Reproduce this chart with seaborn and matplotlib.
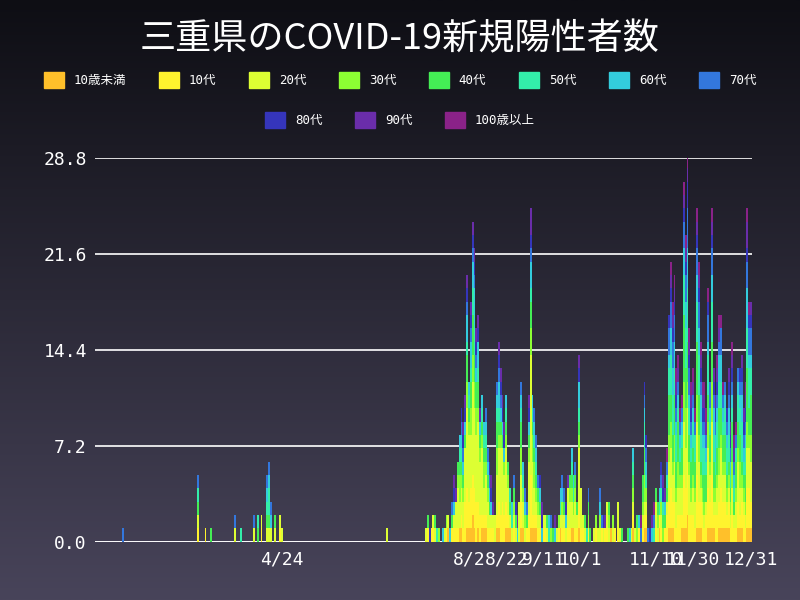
import numpy as np
import pandas as pd
import matplotlib
matplotlib.use("Agg")
import matplotlib.pyplot as plt
import matplotlib.patches as mpatches
import seaborn as sns

start = pd.Timestamp("2020-01-15")
age_labels = ["10歳未満", "10代", "20代", "30代", "40代", "50代", "60代", "70代", "80代", "90代", "100歳以上"]
age_colors = ["#FFC02A", "#FFF42E", "#DDFF33", "#8CFF33", "#44EE55", "#33EEAA", "#33CCDD", "#3377DD", "#3535BB", "#6A2DAA", "#8A2288"]

# early cases: day offset from Jan 15 -> count
early_days = [15, 55, 59, 62, 75, 78, 85, 87, 89, 92, 93, 94, 96, 99, 100, 156]
early_counts = [1, 5, 1, 1, 2, 1, 2, 2, 2, 5, 6, 3, 2, 2, 1, 1]

# daily totals from Jul 10 (day 177) to Dec 31 (day 351)
late_start = 177
late_counts = [
    1, 2, 1, 1, 2, 2, 1, 1, 0, 1, 1, 2, 2, 1, 3, 5, 4, 6, 8, 10,
    9, 11, 20, 12, 18, 24, 22, 16, 17, 10, 11, 9, 10, 7, 6, 5, 3, 2, 12, 15,
    13, 11, 9, 11, 6, 4, 3, 5, 3, 2, 3, 12, 6, 4, 3, 11, 25, 11, 10, 8,
    5, 5, 3, 2, 2, 2, 2, 2, 1, 2, 1, 2, 4, 5, 4, 3, 5, 5, 7, 5,
    6, 3, 14, 4, 2, 2, 1, 4, 1, 0, 1, 2, 1, 4, 2, 2, 2, 3, 3, 1,
    2, 1, 0, 3, 1, 1, 0, 0, 1, 1, 1, 7, 1, 2, 2, 2, 5, 12, 8, 1,
    1, 2, 3, 4, 3, 4, 6, 5, 4, 7, 17, 21, 18, 20, 13, 14, 10, 11, 27, 23,
    29, 16, 12, 13, 10, 25, 21, 15, 12, 12, 10, 19, 12, 25, 13, 11, 14, 17, 17, 12,
    12, 10, 13, 9, 15, 8, 9, 13, 13, 14, 10, 12, 25, 18, 18,
]

# rough age mix per wave (index into age_labels, repeated by weight)
mix_spring = [2, 3, 4, 5, 6, 7, 2, 4, 5, 1]
mix_summer = [1, 2, 2, 2, 1, 3, 4, 2, 0, 5, 6, 2, 3, 7, 1, 4, 2, 8, 6, 9]
mix_winter = [1, 2, 3, 4, 5, 0, 6, 1, 7, 2, 5, 8, 3, 4, 9, 6, 1, 5, 10, 7, 2, 4]

rows = []
for d, n in zip(early_days, early_counts):
    for k in range(n):
        rows.append((d, mix_spring[(d + k) % len(mix_spring)]))
for i, n in enumerate(late_counts):
    d = late_start + i
    mix = mix_summer if d < 290 else mix_winter
    for k in range(n):
        rows.append((d, mix[(d * 3 + k) % len(mix)]))
df = pd.DataFrame(rows, columns=["day", "age"])
df["age"] = pd.Categorical([age_labels[a] for a in df["age"]], categories=age_labels)

sns.set_theme(style="dark")
plt.rcParams["font.family"] = ["DejaVu Sans Mono", "Noto Sans CJK JP"]

fig = plt.figure(figsize=(8, 6), dpi=100)
bg = fig.add_axes([0, 0, 1, 1])
grad = np.linspace(0, 1, 256).reshape(-1, 1)
bg.imshow(grad, aspect="auto", cmap=matplotlib.colors.LinearSegmentedColormap.from_list("bg", ["#0e0e14", "#48445a"]),
          extent=[0, 1, 0, 1], origin="upper")
bg.axis("off")

ax = fig.add_axes([0.119, 0.097, 0.821, 0.64])
ax.set_facecolor("none")
# seaborn stacks the first hue level on top, so reverse to keep youngest at the bottom
sns.histplot(data=df, x="day", hue="age", hue_order=age_labels[::-1], palette=age_colors[::-1],
             multiple="stack", discrete=True, shrink=1.0, alpha=1, linewidth=0,
             legend=False, ax=ax)
ax.set_xlim(0, 351.5)
ax.set_ylim(0, 28.8)
yt = [0, 7.2, 14.4, 21.6, 28.8]
ax.set_yticks(yt)
ax.set_yticklabels([f"{v:.1f}" for v in yt], color="white", fontsize=13)
tick_dates = ["2020-04-24", "2020-08-02", "2020-08-22", "2020-09-11", "2020-10-01", "2020-11-10", "2020-11-30", "2020-12-31"]
tick_days = [(pd.Timestamp(t) - start).days for t in tick_dates]
ax.set_xticks(tick_days)
ax.set_xticklabels([f"{pd.Timestamp(t).month}/{pd.Timestamp(t).day}" for t in tick_dates],
                   color="white", fontsize=13)
ax.grid(axis="y", color="white", linewidth=1.2)
ax.grid(axis="x", visible=False)
ax.set_axisbelow(True)
ax.set_xlabel("")
ax.set_ylabel("")
for s in ax.spines.values():
    s.set_visible(False)
ax.axhline(0, color="white", linewidth=1.2, zorder=0)
ax.tick_params(length=0, pad=6)

fig.text(0.5, 0.935, "三重県のCOVID-19新規陽性者数", ha="center", va="center", color="white", fontsize=26,
         family=["Noto Sans CJK JP", "DejaVu Sans"])

handles = [mpatches.Patch(color=c, label=l) for c, l in zip(age_colors, age_labels)]
fig.legend(handles=handles[:8], loc="center", bbox_to_anchor=(0.5, 0.867), ncol=8, frameon=False,
           labelcolor="white", fontsize=9, handlelength=1.6, handleheight=1.6, columnspacing=2.6)
fig.legend(handles=handles[8:], loc="center", bbox_to_anchor=(0.5, 0.8), ncol=3, frameon=False,
           labelcolor="white", fontsize=9, handlelength=1.6, handleheight=1.6, columnspacing=2.6)

fig.savefig("out.png", dpi=100)
